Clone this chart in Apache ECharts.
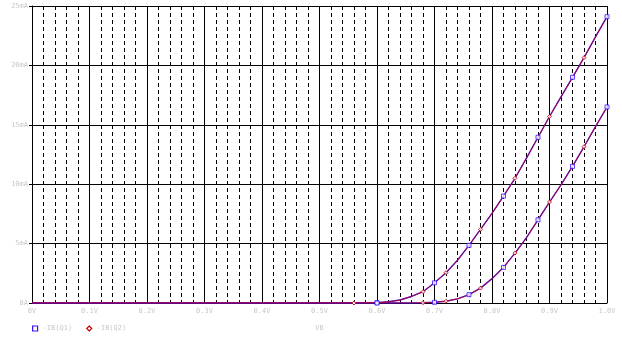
<!DOCTYPE html>
<html>
<head>
<meta charset="utf-8">
<script src="https://cdn.jsdelivr.net/npm/echarts@6/dist/echarts.min.js"></script>
<style>
html, body { margin: 0; padding: 0; background: #fff; }
#chart { width: 622px; height: 337px; }
</style>
</head>
<body>
<div id="chart"></div>
<script>
// sweep voltage (V)
var vb = [0, 0.56, 0.58, 0.60, 0.62, 0.64, 0.66, 0.68, 0.70, 0.72, 0.74, 0.76,
	0.78, 0.80, 0.82, 0.84, 0.86, 0.88, 0.90, 0.92, 0.94, 0.96, 0.98, 1.00];
// base current, first run (mA)
var ibRunA = [0, 0, 0, 0.03, 0.1, 0.25, 0.55, 0.95, 1.7, 2.55, 3.6, 4.85,
	6.2, 7.55, 9.0, 10.5, 12.2, 13.95, 15.7, 17.35, 19.0, 20.65, 22.4, 24.1];
// base current, second run (mA)
var ibRunB = [0, 0, 0, 0, 0, 0, 0, 0.02, 0.06, 0.15, 0.35, 0.7,
	1.25, 2.05, 3.0, 4.2, 5.5, 7.0, 8.5, 9.95, 11.5, 13.15, 14.85, 16.5];
var seriesNames = ["-IB(Q1)", "-IB(Q2)"];
var xTicks = { min: 0, max: 1, step: 0.1 };
var yTicks = { min: 0, max: 25, step: 5 };

// which points carry a marker
var q1Marks = [3, 8, 11, 14, 17, 20, 23];
var q2Marks = [1, 7, 9, 12, 15, 18, 21];

var blue = "#3a10ff";
var red = "#c00000";

function linePoints(values) {
	return vb.map(function (v, i) {
		return [v, values[i]];
	});
}

function markPoints(values, marks) {
	return marks.map(function (i) {
		return [vb[i], values[i]];
	});
}

function lineSeries(name, values, color, width, z) {
	return {
		name: name,
		type: "line",
		data: linePoints(values),
		symbol: "none",
		lineStyle: { color: color, width: width },
		itemStyle: { color: color },
		z: z,
	};
}

function markSeries(name, values, marks, color, symbol) {
	return {
		name: name,
		type: "scatter",
		data: markPoints(values, marks),
		symbol: symbol,
		symbolSize: 4,
		itemStyle: { color: "#fff", borderColor: color, borderWidth: 1 },
		z: 6,
	};
}

var chart = echarts.init(document.getElementById("chart"));
var labelFont = {
	color: "#c8c8c8",
	fontSize: 7,
	fontFamily: "DejaVu Sans Mono",
};

var option = {
	animation: false,
	backgroundColor: "#fff",
	grid: { left: 32, right: 15, top: 6, bottom: 30 },
	legend: {
		left: 27,
		top: 320,
		itemWidth: 5,
		itemHeight: 5,
		itemGap: 14,
		textStyle: labelFont,
		data: [
			{ name: seriesNames[0], icon: "rect", itemStyle: { color: "#fff", borderColor: blue, borderWidth: 1.2 } },
			{ name: seriesNames[1], icon: "diamond", itemStyle: { color: "#fff", borderColor: red, borderWidth: 1.2 } },
		],
	},
	xAxis: {
		type: "value",
		min: xTicks.min,
		max: xTicks.max,
		interval: xTicks.step,
		name: "VB",
		nameLocation: "middle",
		nameGap: 22,
		nameTextStyle: labelFont,
		axisLine: { lineStyle: { color: "#000", width: 1 } },
		axisTick: { show: false },
		axisLabel: Object.assign({
			margin: 5,
			formatter: function (v) {
				return v === 0 ? "0V" : v.toFixed(1) + "V";
			},
		}, labelFont),
		splitLine: { lineStyle: { color: "#000", width: 1 } },
		minorTick: { show: false, splitNumber: 5 },
		minorSplitLine: { show: true, lineStyle: { color: "#000", width: 1, type: [4, 3] } },
	},
	yAxis: {
		type: "value",
		min: yTicks.min,
		max: yTicks.max,
		interval: yTicks.step,
		axisLine: { show: true, lineStyle: { color: "#000", width: 1 } },
		axisTick: { show: true, length: 3, lineStyle: { color: "#000" } },
		axisLabel: Object.assign({
			margin: 4,
			formatter: function (v) {
				return v === 0 ? "0A" : v + "mA";
			},
		}, labelFont),
		splitLine: { lineStyle: { color: "#000", width: 1 } },
	},
	series: [
		lineSeries(seriesNames[0], ibRunA, blue, 1.4, 3),
		lineSeries(seriesNames[1], ibRunA, red, 0.8, 4),
		lineSeries(seriesNames[0], ibRunB, blue, 1.4, 3),
		lineSeries(seriesNames[1], ibRunB, red, 0.8, 4),
		markSeries(seriesNames[0], ibRunA, q1Marks, blue, "rect"),
		markSeries(seriesNames[1], ibRunA, q2Marks, red, "diamond"),
		markSeries(seriesNames[0], ibRunB, q1Marks, blue, "rect"),
		markSeries(seriesNames[1], ibRunB, q2Marks, red, "diamond"),
	],
};

chart.setOption(option);
</script>
</body>
</html>
